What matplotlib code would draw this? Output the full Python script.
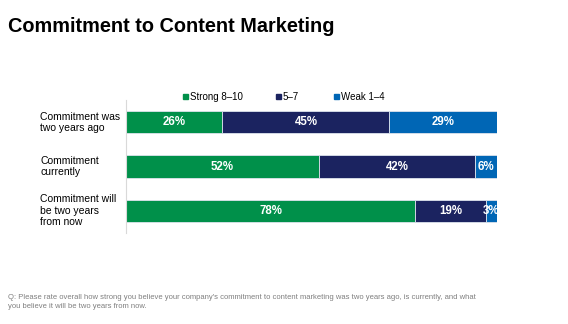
import numpy as np
import matplotlib.pyplot as plt
from matplotlib.patches import Rectangle

plt.rcParams['font.family'] = ['Liberation Sans', 'DejaVu Sans']

# data
categories = ['Commitment was\ntwo years ago', 'Commitment\ncurrently', 'Commitment will\nbe two years\nfrom now']
series = ['Strong 8\u201310', '5\u20137', 'Weak 1\u20134']
strong = [26, 52, 78]
mid = [45, 42, 19]
weak = [29, 6, 3]
colors = ['#00904A', '#1B2360', '#0066B5']

W, H = 568, 324
fig = plt.figure(figsize=(W/100, H/100), dpi=100)
ax = fig.add_axes([126/W, 1-233/H, 371/W, 133/H])

y = np.arange(len(categories))
left = np.zeros(len(categories))
for vals, col in zip([strong, mid, weak], colors):
    vals = np.array(vals)
    ax.barh(y, vals, left=left, height=0.5, color=col, edgecolor='#dde3ec', linewidth=0.6)
    for yi, l, v in zip(y, left, vals):
        ax.text(l + v/2, yi, f'{v}%', ha='center', va='center', color='white',
                fontsize=8.3, fontweight='bold')
    left = left + vals

ax.set_xlim(0, 100)
ax.set_ylim(2.51, -0.51)
ax.set_xticks([])
ax.set_yticks([])
for s in ['top', 'right', 'bottom']:
    ax.spines[s].set_visible(False)
ax.spines['left'].set_color('#d9d9d9')
ax.spines['left'].set_linewidth(0.8)

# category labels, left aligned at x=40px
for yi, c in zip(y, categories):
    ax.annotate(c, xy=(0, yi), xycoords=('axes fraction', 'data'),
                xytext=(-86*0.72, 0), textcoords='offset points',
                ha='left', va='center', fontsize=7.5)

# legend drawn by hand (uneven spacing in the original)
leg_x = [183, 276, 334]
for lx, lab, col in zip(leg_x, series, colors):
    fig.patches.append(Rectangle((lx/W, 1-99/H), 5/W, 5/H, color=col,
                                 transform=fig.transFigure, figure=fig))
    fig.text((lx+7)/W, 1-96.5/H, lab, fontsize=7, va='center', ha='left')

fig.text(8/W, 1-27/H, 'Commitment to Content Marketing', fontsize=14.3,
         fontweight='bold', va='center', ha='left')
fig.text(8/W, 1-302/H,
         "Q: Please rate overall how strong you believe your company's commitment to content marketing was two years ago, is currently, and what\n"
         "you believe it will be two years from now.",
         fontsize=5.5, color='#7f7f7f', va='center', ha='left', linespacing=1.3)

fig.savefig('out.png', dpi=100)
